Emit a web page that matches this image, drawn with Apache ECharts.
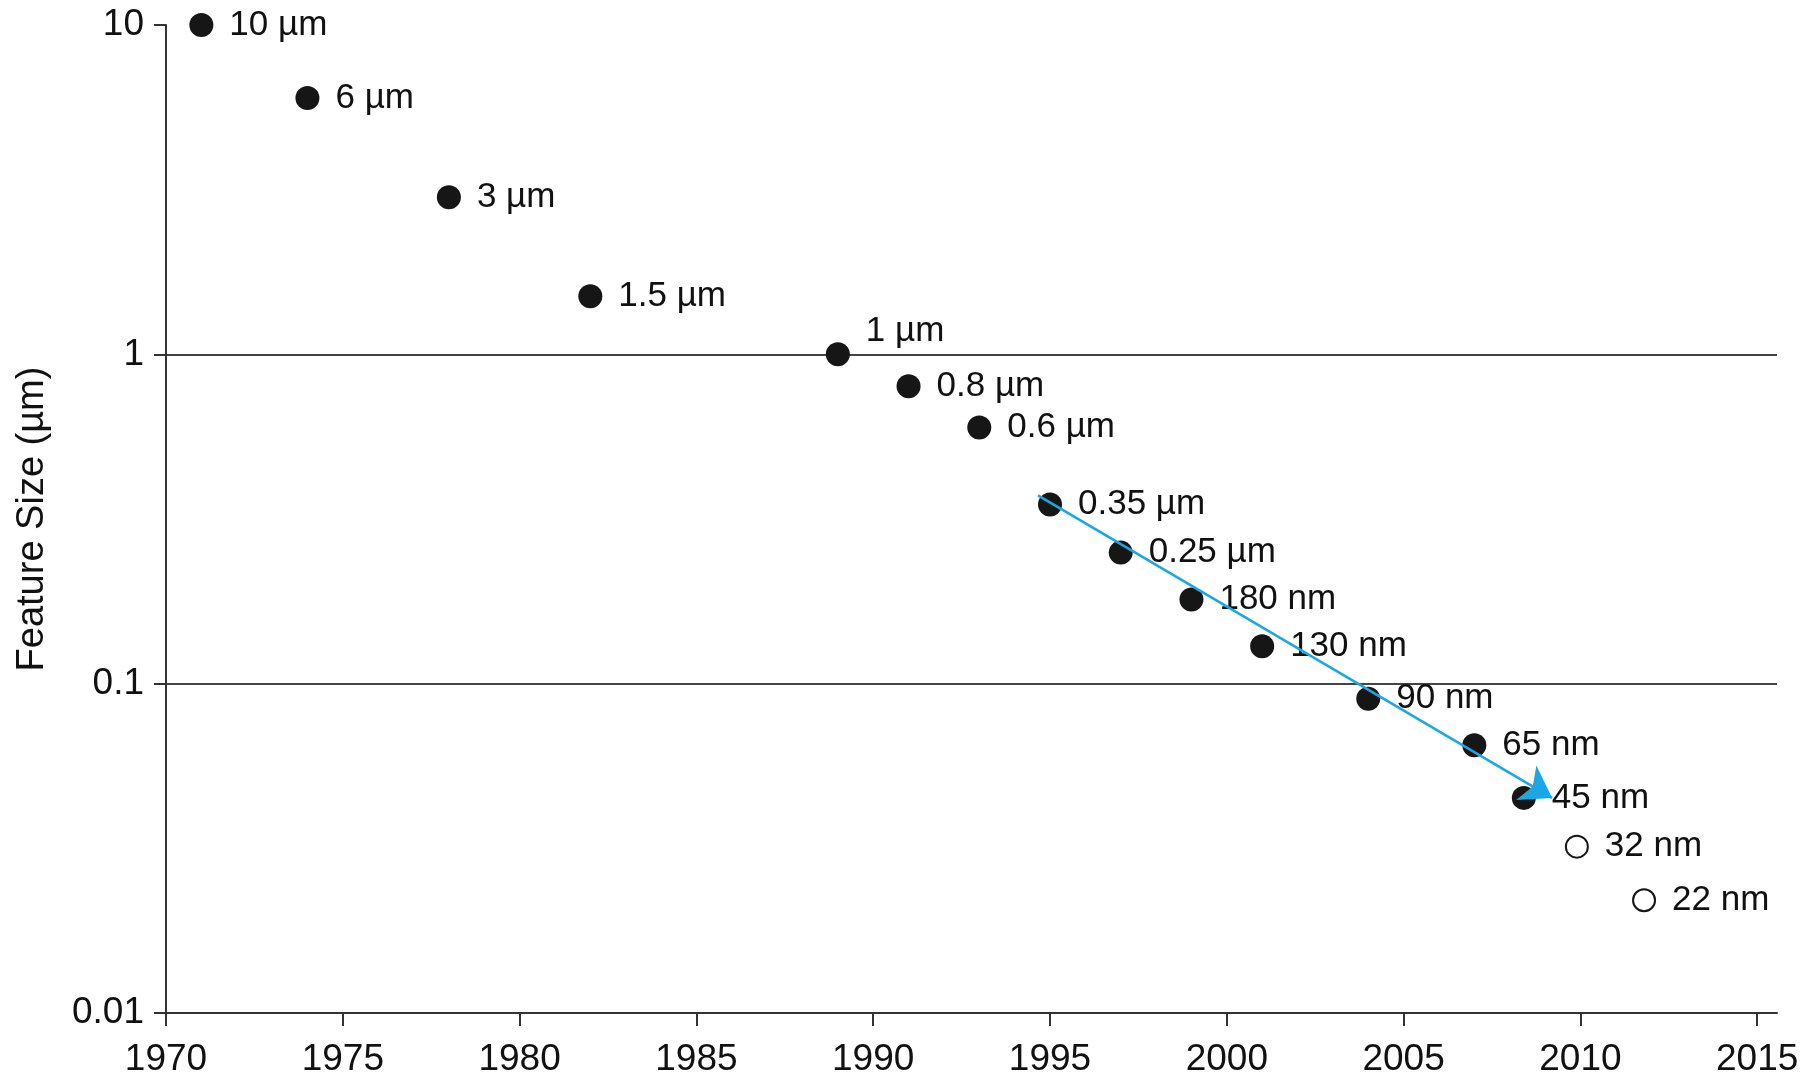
<!DOCTYPE html>
<html>
<head>
<meta charset="utf-8">
<script src="https://cdn.jsdelivr.net/npm/echarts@6/dist/echarts.min.js"></script>
<style>
html,body{margin:0;padding:0;background:#fff;}
#chart{width:1814px;height:1078px;}
</style>
</head>
<body>
<div id="chart"></div>
<script>
// ---- data ----
const years = [1971, 1974, 1978, 1982, 1989, 1991, 1993, 1995, 1997, 1999, 2001, 2004, 2007, 2008.4];
const sizes = [10, 6, 3, 1.5, 1, 0.8, 0.6, 0.35, 0.25, 0.18, 0.13, 0.09, 0.065, 0.045];
const labels = ['10 µm', '6 µm', '3 µm', '1.5 µm', '1 µm', '0.8 µm', '0.6 µm', '0.35 µm', '0.25 µm', '180 nm', '130 nm', '90 nm', '65 nm', '45 nm'];

const futureYears = [2009.9, 2011.8];
const futureSizes = [0.032, 0.022];
const futureLabels = ['32 nm', '22 nm'];

const trendStart = [1994.66, 0.373];
const trendEnd = [2009.2, 0.045];

const xTicks = [1970, 1975, 1980, 1985, 1990, 1995, 2000, 2005, 2010, 2015];
const yTicks = [0.01, 0.1, 1, 10];

// ---- chart ----
const FONT = "'Liberation Sans', Arial, Helvetica, sans-serif";
const TXT = '#111';

function pts(xs, ys, ls) {
  return xs.map((x, i) => {
    const item = { value: [x, ys[i]], name: ls[i] };
    if (ls[i] === '1 µm') item.label = { offset: [0, -23] };
    return item;
  });
}

const chart = echarts.init(document.getElementById('chart'));
chart.setOption({
  animation: false,
  backgroundColor: '#fff',
  grid: { left: 166, right: 37, top: 25, bottom: 65, containLabel: false },
  xAxis: {
    type: 'value',
    min: 1970,
    max: 2015.56,
    interval: 5,
    axisLine: { show: true, lineStyle: { color: '#333', width: 2 } },
    axisTick: { show: true, length: 13, lineStyle: { color: '#333', width: 2 }, customValues: xTicks },
    axisLabel: { color: TXT, fontFamily: FONT, fontSize: 37, margin: 28, customValues: xTicks,
      formatter: v => String(Math.round(v)) },
    splitLine: { show: false }
  },
  yAxis: {
    type: 'log',
    logBase: 10,
    min: 0.01,
    max: 10,
    name: 'Feature Size (µm)',
    nameLocation: 'middle',
    nameGap: 114,
    nameTextStyle: { color: TXT, fontFamily: FONT, fontSize: 38 },
    axisLine: { show: true, lineStyle: { color: '#333', width: 2 } },
    axisTick: { show: true, length: 12, lineStyle: { color: '#333', width: 2 } },
    axisLabel: { color: TXT, fontFamily: FONT, fontSize: 37, margin: 22,
      formatter: v => { const t = yTicks.find(k => Math.abs(k - v) < 1e-9); return t === undefined ? '' : String(t); } },
    splitLine: { show: true, showMinLine: false, showMaxLine: false, lineStyle: { color: '#444', width: 2 } }
  },
  series: [
    {
      type: 'scatter',
      z: 3,
      symbol: 'circle',
      symbolSize: 24,
      itemStyle: { color: '#161616', opacity: 1 },
      label: { show: true, position: 'right', distance: 16, color: TXT, fontFamily: FONT, fontSize: 35, formatter: p => p.name },
      data: pts(years, sizes, labels),
      markLine: {
        silent: true,
        z: 4,
        symbol: ['none', 'arrow'],
        symbolSize: 30,
        label: { show: false },
        emphasis: { disabled: true },
        lineStyle: { color: '#1aa7e4', width: 2.5, type: 'solid', opacity: 1 },
        data: [[{ coord: trendStart }, { coord: trendEnd }]]
      }
    },
    {
      type: 'scatter',
      z: 3,
      symbol: 'circle',
      symbolSize: 22,
      itemStyle: { color: '#fff', borderColor: '#161616', borderWidth: 2, opacity: 1 },
      label: { show: true, position: 'right', distance: 16, color: TXT, fontFamily: FONT, fontSize: 35, formatter: p => p.name },
      data: pts(futureYears, futureSizes, futureLabels)
    }
  ]
});
</script>
</body>
</html>
